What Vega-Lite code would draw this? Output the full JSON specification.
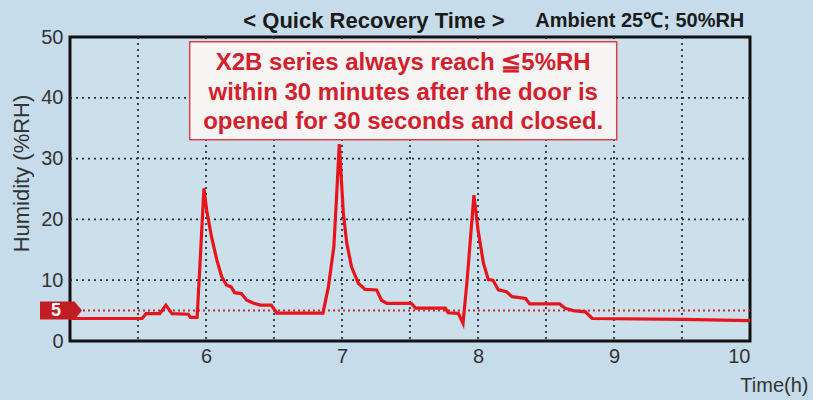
{
  "$schema": "https://vega.github.io/schema/vega-lite/v6.json",
  "width": 680,
  "height": 304,
  "autosize": {"type": "none"},
  "padding": {"left": 70, "top": 37, "right": 63, "bottom": 59},
  "background": "#c7dcea",
  "config": {
    "view": {"fill": "#cce0ec", "stroke": "#111111", "strokeWidth": 3},
    "font": "Liberation Sans",
    "axis": {
      "grid": false, "ticks": false, "domain": false,
      "labelFontSize": 20, "labelColor": "#333333",
      "titleFontWeight": "normal", "titleColor": "#333333"
    },
    "axisX": {
      "labelPadding": 5, "titleFontSize": 20,
      "titleAnchor": "end", "titleAlign": "right", "titleBaseline": "middle", "titleX": 738, "titleY": 44
    },
    "axisY": {
      "labelPadding": 7, "titleFontSize": 22,
      "titleAngle": -90, "titleAlign": "center", "titleBaseline": "middle", "titleX": -49, "titleY": 136
    }
  },
  "datasets": {
    "humidity": [
      {"t": 5.0, "rh": 3.7}, {"t": 5.53, "rh": 3.7}, {"t": 5.56, "rh": 4.5}, {"t": 5.66, "rh": 4.5},
      {"t": 5.705, "rh": 5.9}, {"t": 5.75, "rh": 4.5}, {"t": 5.87, "rh": 4.4}, {"t": 5.885, "rh": 3.9},
      {"t": 5.935, "rh": 3.9}, {"t": 5.985, "rh": 25.1}, {"t": 6.005, "rh": 21.5}, {"t": 6.04, "rh": 17.2},
      {"t": 6.08, "rh": 13.3}, {"t": 6.115, "rh": 10.6}, {"t": 6.15, "rh": 9.2}, {"t": 6.185, "rh": 8.9},
      {"t": 6.21, "rh": 7.95}, {"t": 6.26, "rh": 7.8}, {"t": 6.30, "rh": 6.7}, {"t": 6.35, "rh": 6.2},
      {"t": 6.40, "rh": 5.9}, {"t": 6.48, "rh": 5.9}, {"t": 6.52, "rh": 4.6}, {"t": 6.86, "rh": 4.6},
      {"t": 6.90, "rh": 8.9}, {"t": 6.94, "rh": 15.5}, {"t": 6.96, "rh": 23.7}, {"t": 6.98, "rh": 32.4},
      {"t": 7.01, "rh": 21.0}, {"t": 7.035, "rh": 16.1}, {"t": 7.07, "rh": 12.2}, {"t": 7.12, "rh": 9.5},
      {"t": 7.17, "rh": 8.5}, {"t": 7.255, "rh": 8.4}, {"t": 7.29, "rh": 6.7}, {"t": 7.33, "rh": 6.2},
      {"t": 7.51, "rh": 6.2}, {"t": 7.54, "rh": 5.4}, {"t": 7.76, "rh": 5.4}, {"t": 7.78, "rh": 4.65},
      {"t": 7.855, "rh": 4.55}, {"t": 7.89, "rh": 2.9}, {"t": 7.92, "rh": 10.0}, {"t": 7.97, "rh": 24.0},
      {"t": 8.00, "rh": 18.3}, {"t": 8.04, "rh": 12.8}, {"t": 8.076, "rh": 10.1}, {"t": 8.11, "rh": 10.0},
      {"t": 8.15, "rh": 8.4}, {"t": 8.21, "rh": 8.1}, {"t": 8.25, "rh": 7.3}, {"t": 8.35, "rh": 7.0},
      {"t": 8.38, "rh": 6.1}, {"t": 8.60, "rh": 6.1}, {"t": 8.64, "rh": 5.4}, {"t": 8.70, "rh": 5.0},
      {"t": 8.79, "rh": 4.8}, {"t": 8.84, "rh": 3.7}, {"t": 9.5, "rh": 3.55}, {"t": 10.0, "rh": 3.35}
    ],
    "vgrid": [{"t": 5.5}, {"t": 6}, {"t": 6.5}, {"t": 7}, {"t": 7.5}, {"t": 8}, {"t": 8.5}, {"t": 9}, {"t": 9.5}],
    "hgrid": [{"rh": 10}, {"rh": 20}, {"rh": 30}, {"rh": 40}],
    "target": [{"t": 5, "rh": 5, "label": "5"}],
    "note": [
      {"t": 5.88, "t2": 9.02, "rh": 49.2, "rh2": 33.1}
    ],
    "noteText": [
      {"t": 7.45, "rh": 45.7, "text": "X2B series always reach ≦5%RH"},
      {"t": 7.45, "rh": 40.8, "text": "within 30 minutes after the door is"},
      {"t": 7.45, "rh": 36.0, "text": "opened for 30 seconds and closed."}
    ],
    "titles": [
      {"t": 7.235, "rh": 52.6, "text": "< Quick Recovery Time >", "kind": "main"},
      {"t": 9.19, "rh": 52.6, "text": "Ambient 25℃; 50%RH", "kind": "sub"}
    ]
  },
  "layer": [
    {
      "data": {"name": "vgrid"},
      "mark": {"type": "rule", "color": "#2a2f35", "strokeDash": [2, 4], "strokeWidth": 1.8},
      "encoding": {
        "x": {
          "field": "t", "type": "quantitative",
          "scale": {"domain": [5, 10], "nice": false, "zero": false},
          "axis": {"values": [6, 7, 8, 9, 10], "format": "d", "title": "Time(h)"}
        }
      }
    },
    {
      "data": {"name": "hgrid"},
      "mark": {"type": "rule", "color": "#2a2f35", "strokeDash": [2, 4], "strokeWidth": 1.8},
      "encoding": {
        "y": {
          "field": "rh", "type": "quantitative",
          "scale": {"domain": [0, 50], "nice": false, "zero": true},
          "axis": {"values": [0, 10, 20, 30, 40, 50], "format": "d", "title": "Humidity (%RH)"}
        }
      }
    },
    {
      "data": {"name": "target"},
      "mark": {"type": "rule", "color": "#c8282e", "strokeDash": [2, 3], "strokeWidth": 2},
      "encoding": {"y": {"field": "rh", "type": "quantitative"}}
    },
    {
      "data": {"name": "humidity"},
      "mark": {"type": "line", "color": "#e8141c", "strokeWidth": 3.2, "clip": false},
      "encoding": {
        "x": {"field": "t", "type": "quantitative"},
        "y": {"field": "rh", "type": "quantitative"}
      }
    },
    {
      "data": {"name": "note"},
      "mark": {"type": "rect", "fill": "#f7f4f4", "stroke": "#d9424a", "strokeWidth": 1.5},
      "encoding": {
        "x": {"field": "t", "type": "quantitative"},
        "x2": {"field": "t2"},
        "y": {"field": "rh", "type": "quantitative"},
        "y2": {"field": "rh2"}
      }
    },
    {
      "data": {"name": "noteText"},
      "mark": {"type": "text", "color": "#d2202c", "fontWeight": "bold", "fontSize": 24, "align": "center", "baseline": "middle"},
      "encoding": {
        "x": {"field": "t", "type": "quantitative"},
        "y": {"field": "rh", "type": "quantitative"},
        "text": {"field": "text"}
      }
    },
    {
      "data": {"name": "target"},
      "mark": {"type": "point", "filled": true, "color": "#c21d22", "opacity": 1, "size": 3600, "clip": false,
        "shape": "M-1,-0.3L0.15,-0.3L0.4,0L0.15,0.3L-1,0.3Z"},
      "encoding": {
        "x": {"field": "t", "type": "quantitative"},
        "y": {"field": "rh", "type": "quantitative"}
      }
    },
    {
      "data": {"name": "target"},
      "mark": {"type": "text", "color": "#ffffff", "fontWeight": "bold", "fontSize": 18, "align": "center", "baseline": "middle", "dx": -14, "clip": false},
      "encoding": {
        "x": {"field": "t", "type": "quantitative"},
        "y": {"field": "rh", "type": "quantitative"},
        "text": {"field": "label"}
      }
    },
    {
      "data": {"name": "titles"},
      "mark": {"type": "text", "color": "#1a1a1a", "fontWeight": "bold", "align": "center", "baseline": "middle", "clip": false},
      "encoding": {
        "x": {"field": "t", "type": "quantitative"},
        "y": {"field": "rh", "type": "quantitative"},
        "text": {"field": "text"},
        "size": {"field": "kind", "type": "nominal", "scale": {"domain": ["main", "sub"], "range": [22, 20]}, "legend": null}
      }
    }
  ]
}
